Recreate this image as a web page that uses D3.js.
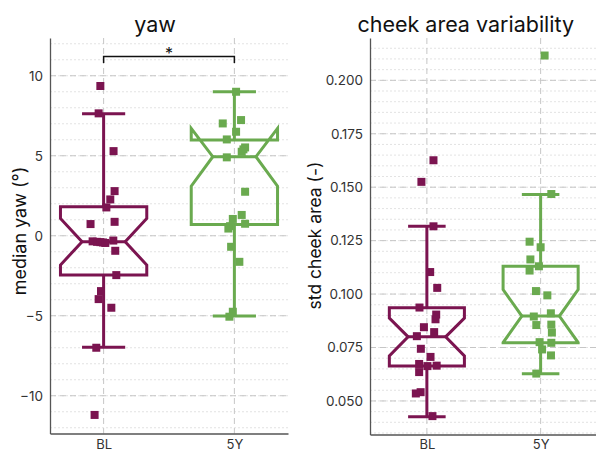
<!DOCTYPE html>
<html>
<head>
<meta charset="utf-8">
<script src="https://cdn.jsdelivr.net/npm/d3@7"></script>
<style>
  body { margin: 0; background: #fff; }
  svg { font-family: Inter, "DejaVu Sans", sans-serif; }
</style>
</head>
<body>
<script>
// groups
var groups = ["BL", "5Y"];
var colors = ["#7b1450", "#6aaa4f"];

// yaw panel - points (value) and horizontal jitter (category units)
var yawBL = [9.36, 7.65, 5.29, 2.79, 2.27, 1.77, 0.87, 0.73, -0.30, -0.35, -0.38, -0.40, -0.42, -0.45, -0.94, -2.46, -3.46, -3.96, -4.50, -7.00, -11.2];
var yawBLJit = [-0.025, -0.038, 0.076, 0.084, 0.051, 0.021, 0.084, -0.10, 0.074, -0.084, -0.05, -0.025, -0.005, 0.013, 0.089, 0.097, -0.02, -0.038, 0.059, -0.056, -0.069];
var yaw5Y = [9.0, 7.23, 7.02, 6.5, 6.02, 5.52, 5.4, 5.25, 4.9, 2.75, 1.3, 1.05, 0.75, 0.6, 0.45, -0.69, -1.63, -4.75, -5.06];
var yaw5YJit = [0.013, 0.051, -0.089, 0.013, -0.058, 0.082, 0.069, 0.056, -0.058, 0.082, 0.056, -0.012, 0.082, -0.033, -0.046, -0.025, 0.038, -0.012, -0.038];

// cheek panel
var cheekBL = [0.1626, 0.1525, 0.1317, 0.1103, 0.1029, 0.0937, 0.0904, 0.0882, 0.0845, 0.0822, 0.0803, 0.0744, 0.0706, 0.0673, 0.0663, 0.0665, 0.0635, 0.0541, 0.0535, 0.0429];
var cheekBLJit = [0.058, -0.048, 0.058, 0.029, 0.091, -0.065, 0.082, 0.076, -0.026, 0.064, -0.088, -0.053, 0.032, -0.068, 0.005, 0.086, -0.068, -0.055, -0.097, 0.049];
var cheek5Y = [0.2116, 0.1468, 0.1245, 0.1219, 0.1162, 0.1130, 0.1110, 0.1014, 0.0994, 0.0910, 0.0895, 0.0855, 0.0857, 0.0820, 0.0775, 0.0772, 0.0741, 0.0713, 0.0628];
var cheek5YJit = [0.035, 0.094, -0.097, 0.0, -0.09, -0.015, -0.097, -0.041, 0.059, 0.09, -0.06, -0.038, 0.094, 0.099, -0.009, 0.094, 0.013, 0.091, -0.038];

// box stats: [whislo, q1, cilo, med, cihi, q3, whishi]
var yawStats = [[-6.97, -2.46, -1.83, -0.375, 1.08, 1.81, 7.63],
                [-5.02, 0.71, 3.1, 4.94, 6.71, 5.98, 9.0]];
var cheekStats = [[0.0426, 0.0663, 0.0711, 0.0800, 0.0888, 0.0936, 0.1317],
                  [0.0627, 0.0772, 0.0773, 0.0897, 0.1021, 0.1130, 0.1466]];

// ticks
var yawMajor = [-10, -5, 0, 5, 10];
var yawMinor = d3.range(-12, 13, 1);
var cheekMajor = [0.050, 0.075, 0.100, 0.125, 0.150, 0.175, 0.200];
var cheekMinor = d3.range(35, 220, 5).map(function(v){ return v / 1000; });

var W = 596, H = 453;
var svg = d3.select("body").append("svg")
    .attr("width", W)
    .attr("height", H);

function panel(opts){
    var x = d3.scalePoint()
        .domain(groups)
        .range([opts.left, opts.right])
        .padding(opts.pad);
    var y = d3.scaleLinear()
        .domain(opts.ydomain)
        .range([opts.bottom, opts.top]);
    var step = x.step();
    var g = svg.append("g");

    // minor grid
    g.selectAll(".minor").data(opts.minor).enter().append("line")
        .attr("x1", opts.left).attr("x2", opts.right)
        .attr("y1", function(d){ return y(d); })
        .attr("y2", function(d){ return y(d); })
        .style("stroke", "#dcdcdc")
        .style("stroke-width", 0.8)
        .style("stroke-dasharray", "2,2");
    // major grid
    g.selectAll(".major").data(opts.major).enter().append("line")
        .attr("x1", opts.left).attr("x2", opts.right)
        .attr("y1", function(d){ return y(d); })
        .attr("y2", function(d){ return y(d); })
        .style("stroke", "#c6c6c6")
        .style("stroke-width", 1)
        .style("stroke-dasharray", "6,4");
    g.selectAll(".vgrid").data(groups).enter().append("line")
        .attr("x1", function(d){ return x(d); })
        .attr("x2", function(d){ return x(d); })
        .attr("y1", opts.top).attr("y2", opts.bottom)
        .style("stroke", "#c6c6c6")
        .style("stroke-width", 1)
        .style("stroke-dasharray", "6,4");

    // boxes
    var bw = 0.66 * step;
    opts.stats.forEach(function(s, i){
        var c = x(groups[i]);
        var L = c - bw / 2, R = c + bw / 2, nL = c - bw / 4, nR = c + bw / 4;
        var pts = [[L, s[1]], [R, s[1]], [R, s[2]], [nR, s[3]], [R, s[4]], [R, s[5]],
                   [L, s[5]], [L, s[4]], [nL, s[3]], [L, s[2]], [L, s[1]]];
        var bg = g.append("g")
            .style("stroke", colors[i])
            .style("stroke-width", 3)
            .style("fill", "none");
        bg.append("path")
            .attr("d", d3.line()(pts.map(function(p){ return [p[0], y(p[1])]; })) + "Z")
            .style("stroke-linejoin", "miter");
        bg.append("line").attr("x1", nL).attr("x2", nR)
            .attr("y1", y(s[3])).attr("y2", y(s[3]));
        bg.append("line").attr("x1", c).attr("x2", c)
            .attr("y1", y(s[1])).attr("y2", y(s[0]));
        bg.append("line").attr("x1", c).attr("x2", c)
            .attr("y1", y(s[5])).attr("y2", y(s[6]));
        [s[0], s[6]].forEach(function(v){
            bg.append("line").attr("x1", c - bw / 4).attr("x2", c + bw / 4)
                .attr("y1", y(v)).attr("y2", y(v));
        });
    });

    // points
    var sz = 8;
    opts.points.forEach(function(p, i){
        g.selectAll(".pt" + i).data(p.vals).enter().append("rect")
            .attr("x", function(d, j){ return x(groups[i]) + p.jit[j] * step - sz / 2; })
            .attr("y", function(d){ return y(d) - sz / 2; })
            .attr("width", sz).attr("height", sz)
            .style("fill", colors[i]);
    });

    // axes
    var yAxis = d3.axisLeft(y).tickValues(opts.major).tickSize(0).tickPadding(7)
        .tickFormat(opts.fmt);
    var yg = g.append("g").attr("transform", "translate(" + opts.left + ",0)").call(yAxis);
    var xAxis = d3.axisBottom(x).tickSize(0).tickPadding(opts.xpad);
    var xg = g.append("g").attr("transform", "translate(0," + opts.bottom + ")").call(xAxis);
    [yg, xg].forEach(function(a){
        a.select(".domain").style("stroke", "#555").style("stroke-width", 1.3);
        a.selectAll("text").style("font-size", "13.5px").style("fill", "#333")
            .style("font-family", "Inter, sans-serif");
    });
    xg.selectAll("text").style("font-size", "13px");

    // title + label
    svg.append("text")
        .attr("x", (opts.left + opts.right) / 2 + opts.titleShift)
        .attr("y", 32)
        .attr("text-anchor", "middle")
        .style("font-size", "21.5px")
        .style("fill", "#111")
        .text(opts.title);
    svg.append("text")
        .attr("transform", "translate(" + opts.labelX + "," + opts.labelY + ") rotate(-90)")
        .attr("text-anchor", "middle")
        .style("font-size", opts.labelSize)
        .style("fill", "#111")
        .text(opts.ylabel);

    return {x: x, y: y, g: g};
}

var p1 = panel({
    left: 50, right: 288, top: 38, bottom: 433.5, pad: 0.41, xpad: 6.5,
    ydomain: [-12.36, 12.36],
    major: yawMajor, minor: yawMinor, fmt: d3.format("d"),
    stats: yawStats,
    points: [{vals: yawBL, jit: yawBLJit}, {vals: yaw5Y, jit: yaw5YJit}],
    title: "yaw", titleShift: -14, ylabel: "median yaw (°)",
    labelX: 26, labelY: 231, labelSize: "18px"
});

var p2 = panel({
    left: 370, right: 597.5, top: 38, bottom: 434.5, pad: 0.5, xpad: 5.5,
    ydomain: [0.0343, 0.2198],
    major: cheekMajor, minor: cheekMinor, fmt: d3.format(".3f"),
    stats: cheekStats,
    points: [{vals: cheekBL, jit: cheekBLJit}, {vals: cheek5Y, jit: cheek5YJit}],
    title: "cheek area variability", titleShift: -18, ylabel: "std cheek area (-)",
    labelX: 321, labelY: 235.5, labelSize: "17.5px"
});

// significance bracket
var bx1 = p1.x("BL"), bx2 = p1.x("5Y");
p1.g.append("path")
    .attr("d", "M" + bx1 + "," + p1.y(10.8) + "V" + p1.y(11.2) + "H" + bx2 + "V" + p1.y(10.8))
    .style("fill", "none")
    .style("stroke", "#111")
    .style("stroke-width", 1.5);
p1.g.append("text")
    .attr("x", (bx1 + bx2) / 2)
    .attr("y", p1.y(11.2) + 2)
    .attr("text-anchor", "middle")
    .style("font-size", "16px")
    .style("fill", "#111")
    .text("*");
</script>
</body>
</html>
